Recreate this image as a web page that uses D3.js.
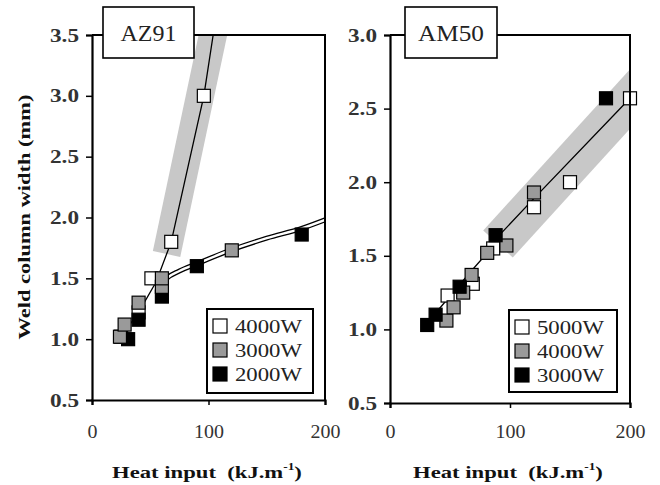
<!DOCTYPE html>
<html><head><meta charset="utf-8">
<script src="https://cdn.jsdelivr.net/npm/d3@7"></script>
<style>
body{margin:0;background:#fff}
svg{display:block}
svg text{font-family:"Liberation Serif","Times New Roman",serif !important}
</style>
</head><body>
<svg id="c" width="660" height="485"></svg>
<script>
// ---------- data ----------
const az91YTicks = [0.5, 1.0, 1.5, 2.0, 2.5, 3.0, 3.5];
const am50YTicks = [0.5, 1.0, 1.5, 2.0, 2.5, 3.0];
const xTicks = [0, 100, 200];

const az91Series = ["4000W", "3000W", "2000W"];
const az91_4000 = [[25,1.02],[40,1.22],[51,1.5],[68,1.8],[96,3.0]];
const az91_3000 = [[24,1.02],[28,1.12],[40,1.3],[60,1.43],[60,1.5],[120,1.73]];
const az91_2000 = [[31,1.0],[40,1.16],[60,1.35],[90,1.6],[180,1.86]];
const az91_steepLine = [[25,1.02],[40,1.22],[55,1.47],[68,1.8],[96,3.0],[104,3.5]];
const az91_curve = [[57,1.42],[64,1.5],[75,1.56],[90,1.62],[120,1.735],[150,1.83],[180,1.91],[200,1.98]];
const az91_band = [[64,1.70],[106,3.6]];

const am50Series = ["5000W", "4000W", "3000W"];
const am50_5000 = [[48,1.23],[69,1.31],[86,1.55],[120,1.83],[150,2.0],[200,2.57]];
const am50_4000 = [[47,1.06],[53,1.15],[61,1.25],[68,1.37],[81,1.52],[97,1.57],[120,1.93]];
const am50_3000 = [[31,1.03],[38,1.10],[58,1.29],[88,1.64],[180,2.57]];
const am50_line = [[40,1.13],[67,1.39],[80,1.51],[90,1.63],[120,1.89],[200,2.57]];
const am50_band = [[90,1.58],[215,2.70]];

const fills = ["#ffffff", "#9a9a9a", "#000000"];

// ---------- helpers ----------
const svg = d3.select("#c");

function fit(sel, w){
  sel.each(function(){
    const n = this.getComputedTextLength();
    const t = d3.select(this);
    const base = t.attr("data-tr") || "";
    t.attr("transform", base + ` scale(${w/n},1)`);
  });
}

function panel(o){
  const x = d3.scaleLinear().domain([0,200]).range(o.xr);
  const y = d3.scaleLinear().domain(o.yd).range(o.yr);
  const g = svg.append("g");
  const id = "clip" + o.name;
  svg.append("defs").append("clipPath").attr("id", id)
    .append("rect").attr("x", o.xr[0]).attr("y", o.yr[1])
    .attr("width", o.xr[1]-o.xr[0]).attr("height", o.yr[0]-o.yr[1]);
  const pg = g.append("g").attr("clip-path", `url(#${id})`);

  // band
  pg.append("path").datum(o.band)
    .attr("d", d3.line().x(d=>x(d[0])).y(d=>y(d[1])))
    .attr("stroke", "#c8c8c8").attr("stroke-width", o.bandW).attr("fill","none");

  // lines
  o.lines.forEach(l=>{
    const gen = d3.line().x(d=>x(d[0])).y(d=>y(d[1])).curve(l.curve||d3.curveLinear);
    if(l.double){
      pg.append("path").datum(l.data).attr("d", gen).attr("fill","none")
        .attr("stroke","#000").attr("stroke-width",5);
      pg.append("path").datum(l.data).attr("d", gen).attr("fill","none")
        .attr("stroke","#fff").attr("stroke-width",2.4);
    } else {
      pg.append("path").datum(l.data).attr("d", gen).attr("fill","none")
        .attr("stroke","#000").attr("stroke-width",1.3);
    }
  });

  // markers
  const s = 13;
  o.order.forEach(i=>{
    g.append("g").selectAll("rect").data(o.series[i]).join("rect")
      .attr("x", d=>x(d[0])-s/2).attr("y", d=>y(d[1])-s/2)
      .attr("width", s).attr("height", s)
      .attr("fill", fills[i]).attr("stroke","#000").attr("stroke-width",1.2);
  });

  // frame
  g.append("path")
    .attr("d", `M${o.xr[0]},${o.yr[1]}H${o.xr[1]}V${o.yr[0]}`)
    .attr("fill","none").attr("stroke","#000").attr("stroke-width",2);
  // axes
  const ya = g.append("g").attr("transform",`translate(${o.xr[0]},0)`)
    .call(d3.axisLeft(y).tickValues(o.yTicks).tickSize(6).tickFormat(d3.format(".1f")));
  ya.select(".domain").attr("stroke-width",2.2);
  ya.selectAll(".tick line").attr("stroke-width",1.5);
  ya.selectAll(".tick text").attr("font-size",18).attr("font-weight","bold")
    .attr("fill","#333").attr("x",-13).attr("dy","0.34em");
  ya.selectAll(".tick text").each(function(){
    const t=d3.select(this); const n=this.getComputedTextLength();
    t.attr("transform",`translate(-13,0) scale(${29/n},1) translate(13,0)`);
  });

  const xa = g.append("g").attr("transform",`translate(0,${o.yr[0]})`)
    .call(d3.axisBottom(x).tickValues(xTicks).tickSize(5).tickFormat(d3.format("d")));
  xa.select(".domain").attr("stroke-width",2.2);
  xa.selectAll(".tick line").attr("stroke-width",1.5);
  xa.selectAll(".tick text").attr("font-size",18).attr("fill","#333")
    .attr("y", 38 - (o.yr[0]-400)).attr("dy",0);
  xa.selectAll(".tick text").each(function(d){
    const n=this.getComputedTextLength();
    const w = d===0 ? 10 : 30;
    d3.select(this).attr("transform",`scale(${w/n},1)`);
  });

  // x title
  const xt = svg.append("text").attr("text-anchor","middle").attr("font-size",17)
    .attr("font-weight","bold").attr("fill","#111")
    .attr("data-tr",`translate(${o.xt},478)`);
  xt.append("tspan").text("Heat input\u00a0\u00a0(kJ.m");
  xt.append("tspan").text("-1").attr("font-size",10).attr("dy",-8);
  xt.append("tspan").text(")").attr("dy",8);
  xt.attr("transform", xt.attr("data-tr"));
  fit(xt, 190);

  // title box
  g.append("rect").attr("x",o.box[0]).attr("y",7).attr("width",o.box[1]-o.box[0]).attr("height",51)
    .attr("fill","#fff").attr("stroke","#000").attr("stroke-width",1.6);
  const tt = g.append("text").text(o.name).attr("text-anchor","middle").attr("font-size",24)
    .attr("fill","#222").attr("data-tr",`translate(${(o.box[0]+o.box[1])/2},41)`);
  fit(tt, o.titleW);

  // legend
  const L = o.legend;
  const lg = g.append("g");
  lg.append("rect").attr("x",L[0]).attr("y",L[1]).attr("width",L[2]-L[0]).attr("height",L[3]-L[1])
    .attr("fill","#fff").attr("stroke","#000").attr("stroke-width",2);
  const rows = [326,350,374].map(v=>v + (L[1]-309));
  o.labels.forEach((lab,i)=>{
    lg.append("rect").attr("x",L[0]+13-7).attr("y",rows[i]-7).attr("width",14).attr("height",14)
      .attr("fill",fills[i]).attr("stroke","#000").attr("stroke-width",1.2);
    const t = lg.append("text").text(lab).attr("font-size",19).attr("fill","#222")
      .attr("data-tr",`translate(${L[0]+28},${rows[i]+7})`);
    fit(t, 67);
  });
}

panel({
  name:"AZ91", xr:[92,325], yd:[0.5,3.5], yr:[400,35], yTicks:az91YTicks,
  band:az91_band, bandW:28,
  lines:[{data:az91_steepLine},{data:az91_curve,double:true,curve:d3.curveMonotoneX}],
  series:[az91_4000,az91_3000,az91_2000], order:[0,2,1],
  xt:207, box:[103,194], titleW:56, legend:[207,309,313,393], labels:az91Series
});
panel({
  name:"AM50", xr:[390,630], yd:[0.5,3.0], yr:[403,35], yTicks:am50YTicks,
  band:am50_band, bandW:40,
  lines:[{data:am50_line}],
  series:[am50_5000,am50_4000,am50_3000], order:[0,1,2],
  xt:508, box:[405,497], titleW:66, legend:[509,310,617,392], labels:am50Series
});

// y title
const yt = svg.append("text").text("Weld column width (mm)").attr("text-anchor","middle")
  .attr("font-size",17).attr("font-weight","bold").attr("fill","#111")
  .attr("data-tr","translate(30,217) rotate(-90)");
fit(yt, 245);
</script>
</body></html>
